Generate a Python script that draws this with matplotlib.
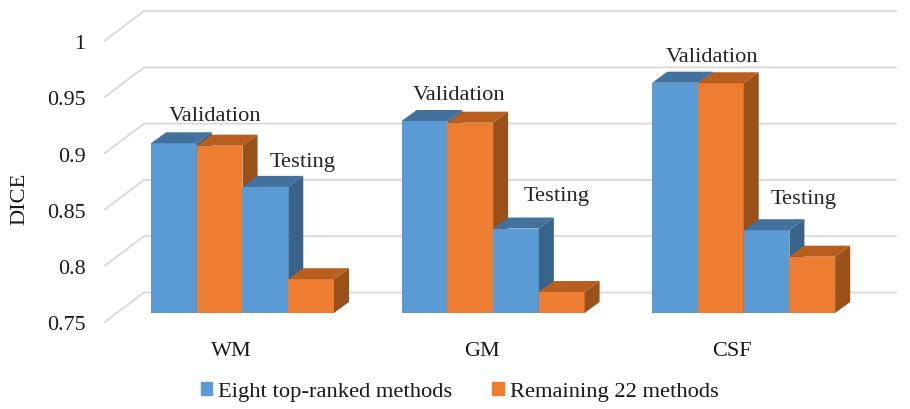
import matplotlib
matplotlib.use("Agg")
import matplotlib.pyplot as plt
from matplotlib.patches import Patch, Polygon

plt.rcParams["font.family"] = ["Liberation Serif", "DejaVu Serif"]

categories = ["WM", "GM", "CSF"]
series_names = ["Eight top-ranked methods", "Remaining 22 methods"]
val_top = [0.9007, 0.9205, 0.9545]
val_rest = [0.8986, 0.919, 0.954]
test_top = [0.862, 0.825, 0.8235]
test_rest = [0.78, 0.7686, 0.80]
y_ticks = [0.75, 0.8, 0.85, 0.9, 0.95, 1]
y_labels = ["0.75", "0.8", "0.85", "0.9", "0.95", "1"]

BLUE = ("#5b9bd5", "#41719c", "#3a6389")
ORANGE = ("#ed7d31", "#b85e1f", "#9a5119")
BASE = 0.75
BAR_W = 0.1825
DX, DY = 0.06, 0.0098


def draw_bar(ax, x, value, colors, z):
    front, top, side = colors
    ax.bar(x, value - BASE, BAR_W, bottom=BASE, align="edge", color=front, zorder=z)
    l, r = x, x + BAR_W
    ax.add_patch(Polygon([(l, value), (r, value), (r + DX, value + DY), (l + DX, value + DY)],
                         color=top, lw=0, zorder=z))
    ax.add_patch(Polygon([(r, BASE), (r + DX, BASE + DY), (r + DX, value + DY), (r, value)],
                         color=side, lw=0, zorder=z))


fig = plt.figure(figsize=(9.1, 4.09), dpi=100)
ax = fig.add_axes([0, 0, 1, 1])
ax.set_xlim(-0.9677, 2.6637)
ax.set_ylim(0.66474, 1.02798)
ax.axis("off")

# back wall and floor gridlines
for tick in y_ticks:
    ax.plot([-0.549, -0.393, 2.607], [tick - 0.008, tick + 0.0182, tick + 0.0182],
            color="#d9d9d9", lw=1.3, zorder=1)

z = 2
for i in range(len(categories)):
    left = i - 2 * BAR_W
    values = [val_top[i], val_rest[i], test_top[i], test_rest[i]]
    for j, value in enumerate(values):
        draw_bar(ax, left + j * BAR_W, value, BLUE if j % 2 == 0 else ORANGE, z)
        z += 1
    ax.text(i - 0.045, 0.7155, categories[i], ha="center", va="center", fontsize=16,
            color="#1a1a1a")

for tick, label in zip(y_ticks, y_labels):
    ax.text(-0.6265, tick - 0.0115, label, ha="right", va="center",
            fontsize=15.8, color="#1a1a1a")
ax.text(-0.888, 0.8512, "DICE", rotation=90, ha="center", va="center", fontsize=16.2,
        color="#1a1a1a")

note_x = [-0.108, 0.2385, 0.864, 1.255, 1.874, 2.24]
note_y = [0.9249, 0.8841, 0.9436, 0.8539, 0.9765, 0.8504]
note_text = ["Validation", "Testing"] * 3
for x, y, s in zip(note_x, note_y, note_text):
    ax.text(x, y, s, ha="center", va="center", fontsize=16.2, color="#262626", zorder=50)

handles = [Patch(color=BLUE[0]), Patch(color=ORANGE[0])]
ax.legend(handles, series_names, loc="center", bbox_to_anchor=(0.505, 0.042), ncol=2,
          frameon=False, fontsize=16.2, handlelength=0.52, handleheight=0.5,
          handletextpad=0.27, columnspacing=1.75, labelcolor="#1a1a1a")

fig.savefig("out.png", dpi=100)
